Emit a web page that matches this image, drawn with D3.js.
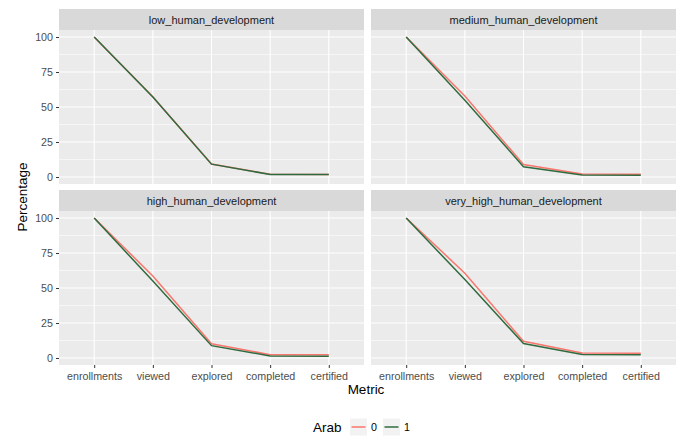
<!DOCTYPE html>
<html>
<head>
<meta charset="utf-8">
<script src="https://cdn.jsdelivr.net/npm/d3@7"></script>
<style>
  body { margin: 0; background: #fff; }
  svg { font-family: "Liberation Sans", Arial, Helvetica, sans-serif; display: block; }
</style>
</head>
<body>
<svg id="chart" width="683" height="437"></svg>
<script>
// Funnel metrics per development group, split by Arab flag
const metrics = ["enrollments", "viewed", "explored", "completed", "certified"];
const panels = ["low_human_development", "medium_human_development", "high_human_development", "very_high_human_development"];
const arabLevels = ["0", "1"];
const yTicks = [0, 25, 50, 75, 100];

const lowArab0 = [100, 57.4, 9.3, 1.9, 1.8];
const lowArab1 = [100, 57.2, 9.2, 1.8, 1.7];
const mediumArab0 = [100, 57.8, 8.9, 2.1, 2.0];
const mediumArab1 = [100, 54.8, 7.3, 1.5, 1.2];
const highArab0 = [100, 58.6, 10.2, 2.4, 2.3];
const highArab1 = [100, 55.0, 8.8, 1.5, 1.3];
const veryHighArab0 = [100, 60.6, 11.9, 3.5, 3.4];
const veryHighArab1 = [100, 56.0, 10.3, 2.5, 2.3];

const seriesByPanel = {
  low_human_development: [lowArab0, lowArab1],
  medium_human_development: [mediumArab0, mediumArab1],
  high_human_development: [highArab0, highArab1],
  very_high_human_development: [veryHighArab0, veryHighArab1]
};

const colors = d3.scaleOrdinal().domain(arabLevels).range(["#F8766D", "#2F6B3F"]);

const svg = d3.select("#chart");

// Panel geometry
const colX = [59, 371];
const panelW = 305;
const stripH = 21;
const rowTop = [9, 190];
const panelH = 154;
const tickFont = 10.7;

const x = d3.scalePoint().domain(metrics).range([0, panelW]).padding(0.6);

panels.forEach((name, i) => {
  const col = i % 2, row = Math.floor(i / 2);
  const left = colX[col];
  const top = rowTop[row];
  const g = svg.append("g").attr("transform", `translate(${left},${top})`);

  // strip
  g.append("rect").attr("width", panelW).attr("height", stripH).attr("fill", "#D9D9D9");
  g.append("text")
    .attr("x", panelW / 2).attr("y", stripH / 2 + 4)
    .attr("text-anchor", "middle").attr("font-size", 11).attr("fill", "#1A1A1A")
    .text(name);

  const pg = g.append("g").attr("transform", `translate(0,${stripH})`);
  const y = d3.scaleLinear().domain([-5, 105]).range([panelH, 0]);

  pg.append("rect").attr("width", panelW).attr("height", panelH).attr("fill", "#EBEBEB");

  // minor grid
  const minor = [12.5, 37.5, 62.5, 87.5];
  pg.selectAll("line.minor").data(minor).enter().append("line")
    .attr("x1", 0).attr("x2", panelW)
    .attr("y1", d => y(d)).attr("y2", d => y(d))
    .attr("stroke", "#fff").attr("stroke-width", 0.55);
  // major grid
  pg.selectAll("line.majy").data(yTicks).enter().append("line")
    .attr("x1", 0).attr("x2", panelW)
    .attr("y1", d => y(d)).attr("y2", d => y(d))
    .attr("stroke", "#fff").attr("stroke-width", 1.1);
  pg.selectAll("line.majx").data(metrics).enter().append("line")
    .attr("y1", 0).attr("y2", panelH)
    .attr("x1", d => x(d)).attr("x2", d => x(d))
    .attr("stroke", "#fff").attr("stroke-width", 1.1);

  // y axis on left column
  if (col === 0) {
    const ay = pg.append("g").call(d3.axisLeft(y).tickValues(yTicks).tickSize(3).tickPadding(3));
    ay.select(".domain").remove();
    ay.selectAll(".tick line").attr("stroke", "#333").attr("stroke-width", 1);
    ay.selectAll(".tick text").attr("font-size", tickFont).attr("fill", "#4D4D4D")
      .attr("font-family", "Liberation Sans, Arial, sans-serif");
  }
  // x axis on bottom row
  if (row === 1) {
    const ax = pg.append("g").attr("transform", `translate(0,${panelH})`)
      .call(d3.axisBottom(x).tickSize(3).tickPadding(4));
    ax.select(".domain").remove();
    ax.selectAll(".tick line").attr("stroke", "#333").attr("stroke-width", 1);
    ax.selectAll(".tick text").attr("font-size", tickFont).attr("fill", "#4D4D4D")
      .attr("font-family", "Liberation Sans, Arial, sans-serif");
  }

  const line = d3.line().x((d, j) => x(metrics[j])).y(d => y(d));
  seriesByPanel[name].forEach((vals, k) => {
    pg.append("path").datum(vals)
      .attr("d", line).attr("fill", "none")
      .attr("stroke", colors(arabLevels[k])).attr("stroke-width", 1.5);
  });
});

// Axis titles
svg.append("text").attr("x", 366).attr("y", 394).attr("text-anchor", "middle")
  .attr("font-size", 13.5).attr("fill", "#000").text("Metric");
svg.append("text").attr("transform", "translate(27,197) rotate(-90)")
  .attr("text-anchor", "middle").attr("font-size", 13.5).attr("fill", "#000").text("Percentage");

// Legend
const lg = svg.append("g").attr("transform", "translate(0,427)");
lg.append("text").attr("x", 313).attr("y", 5).attr("font-size", 13.5).attr("fill", "#000").text("Arab");
arabLevels.forEach((lvl, k) => {
  const kx = 350 + k * 33;
  lg.append("rect").attr("x", kx).attr("y", -8.5).attr("width", 17).attr("height", 17).attr("fill", "#F2F2F2");
  lg.append("line").attr("x1", kx + 1.5).attr("x2", kx + 15.5).attr("y1", 0).attr("y2", 0)
    .attr("stroke", colors(lvl)).attr("stroke-width", 1.5);
  lg.append("text").attr("x", kx + 21).attr("y", 4).attr("font-size", tickFont).attr("fill", "#000").text(lvl);
});
</script>
</body>
</html>
